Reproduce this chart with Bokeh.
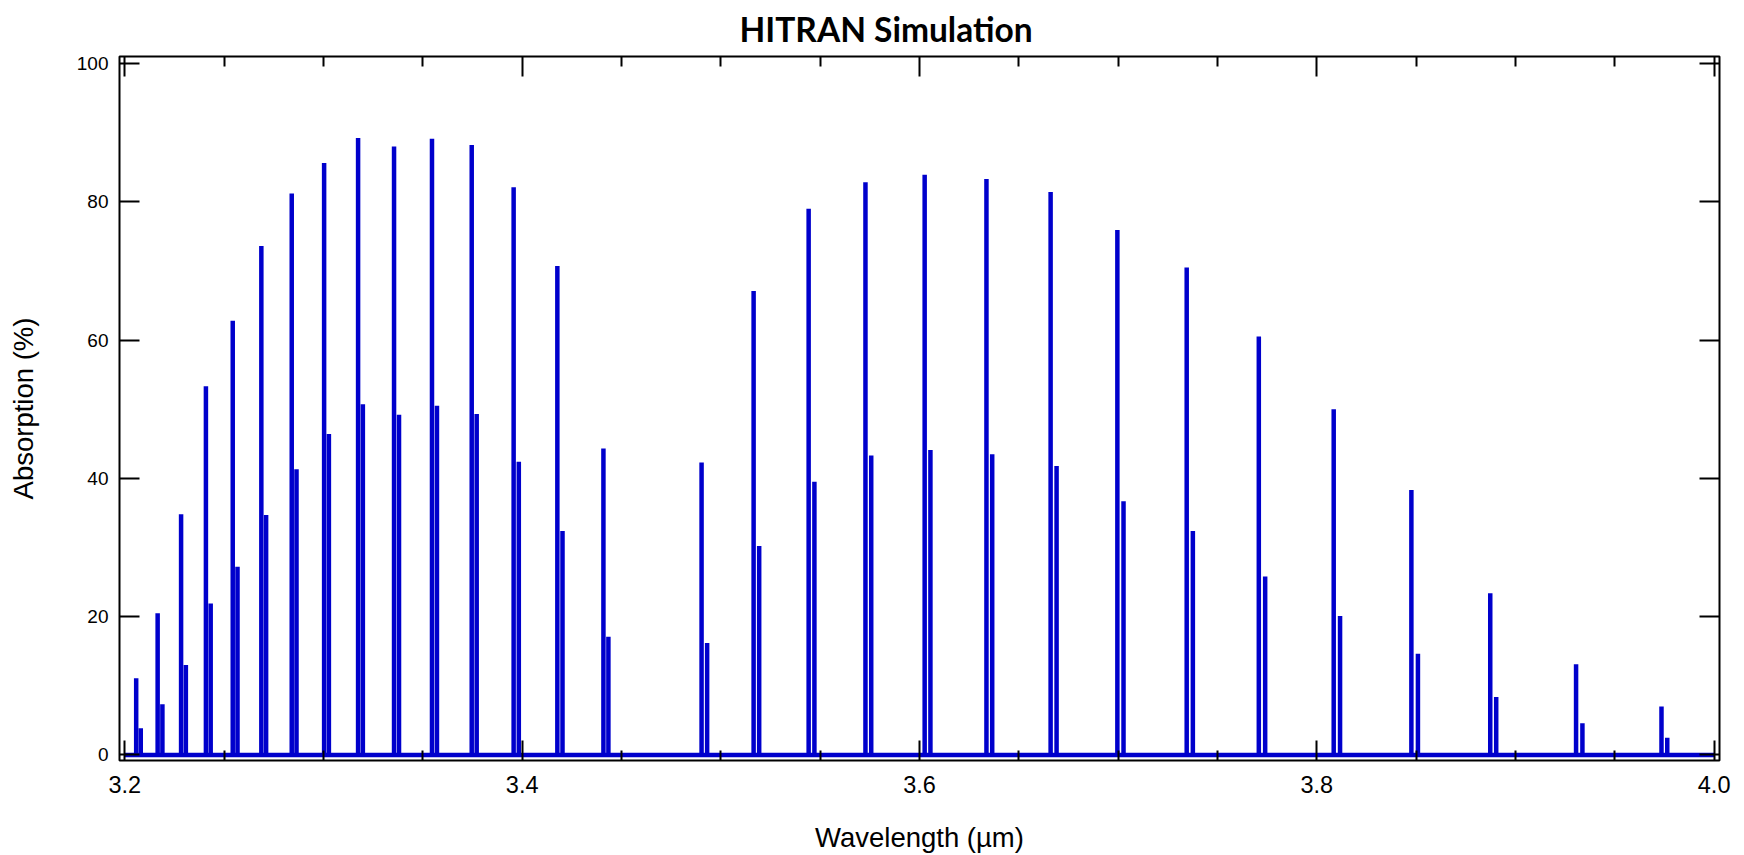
from bokeh.plotting import figure
from bokeh.models import (Range1d, LinearAxis, FixedTicker, PrintfTickFormatter,
                          CustomJSTickFormatter)
from bokeh.embed import file_html
from bokeh.resources import INLINE

# H35Cl lines (main peaks), wavelength in µm and absorption in %
main_wl = [3.2057, 3.2165, 3.2283, 3.2408, 3.2543, 3.2687, 3.2840, 3.3003,
           3.3174, 3.3355, 3.3546, 3.3746, 3.3957, 3.4177, 3.4409,
           3.4903, 3.5165, 3.5442, 3.5728, 3.6026, 3.6337, 3.6660, 3.6996,
           3.7345, 3.7708, 3.8085, 3.8476, 3.8873, 3.9305, 3.9735]
main_abs = [11.1, 20.5, 34.8, 53.3, 62.8, 73.6, 81.2, 85.6, 89.2, 88.0,
            89.1, 88.2, 82.1, 70.7, 44.3,
            42.3, 67.1, 79.0, 82.8, 83.9, 83.3, 81.4, 75.9, 70.5, 60.5,
            50.0, 38.3, 23.4, 13.1, 7.0]

# H37Cl lines (secondary peaks)
iso_wl = [3.2080, 3.2189, 3.2307, 3.2432, 3.2567, 3.2711, 3.2864, 3.3027,
          3.3198, 3.3380, 3.3571, 3.3771, 3.3983, 3.4203, 3.4434,
          3.4931, 3.5193, 3.5471, 3.5757, 3.6055, 3.6366, 3.6690, 3.7027,
          3.7376, 3.7740, 3.8117, 3.8509, 3.8903, 3.9337, 3.9764]
iso_abs = [3.85, 7.35, 13.0, 21.9, 27.2, 34.7, 41.3, 46.4, 50.7, 49.2,
           50.5, 49.3, 42.4, 32.4, 17.1,
           16.2, 30.2, 39.5, 43.3, 44.1, 43.5, 41.8, 36.7, 32.4, 25.8,
           20.1, 14.65, 8.4, 4.57, 2.5]

x_ticks = [3.2, 3.4, 3.6, 3.8, 4.0]
x_minor = [3.25, 3.3, 3.35, 3.45, 3.5, 3.55, 3.65, 3.7, 3.75, 3.85, 3.9, 3.95]
y_ticks = [0, 20, 40, 60, 80, 100]

BLUE = "#0000CC"
TICK_FONT = "Liberation Sans"

p = figure(width=1744, height=855, output_backend="svg", toolbar_location=None,
           x_range=Range1d(3.1973, 4.0027), y_range=Range1d(-0.8, 101.0),
           min_border_left=119, min_border_right=25,
           min_border_top=56, min_border_bottom=93)

p.grid.visible = False
p.background_fill_color = "white"
p.outline_line_color = "black"
p.outline_line_width = 2
p.outline_line_alpha = 1.0

# title
p.title.text = "HITRAN Simulation"
p.title.align = "left"
p.title.vertical_align = "top"
p.title.offset = 620
p.title.text_font = "Lato"
p.title.text_font_style = "bold"
p.title.text_font_size = "33.5px"
p.title.text_color = "black"
p.title.standoff = 12

# bottom axis
xa = p.xaxis[0]
xa.ticker = FixedTicker(ticks=x_ticks, minor_ticks=x_minor)
xa.formatter = PrintfTickFormatter(format="%.1f")
xa.axis_label = "Wavelength (µm)"
xa.axis_label_text_font = TICK_FONT
xa.axis_label_text_font_style = "normal"
xa.axis_label_text_font_size = "27.5px"
xa.axis_label_text_color = "black"
xa.axis_label_standoff = 26
xa.major_label_text_font = TICK_FONT
xa.major_label_text_font_size = "23.5px"
xa.major_label_text_color = "black"
xa.major_label_standoff = 15
xa.axis_line_color = None
xa.major_tick_in = 20
xa.major_tick_out = 0
xa.minor_tick_in = 10
xa.minor_tick_out = 0
xa.major_tick_line_color = "black"
xa.major_tick_line_width = 2
xa.minor_tick_line_color = "black"
xa.minor_tick_line_width = 2

# left axis
ya = p.yaxis[0]
ya.ticker = FixedTicker(ticks=y_ticks, minor_ticks=[])
ya.axis_label = "Absorption (%)"
ya.axis_label_text_font = TICK_FONT
ya.axis_label_text_font_style = "normal"
ya.axis_label_text_font_size = "27.5px"
ya.axis_label_text_color = "black"
ya.axis_label_standoff = 35
ya.major_label_text_font = TICK_FONT
ya.major_label_text_font_size = "19px"
ya.major_label_text_color = "black"
ya.major_label_standoff = 11
ya.axis_line_color = None
ya.major_tick_in = 20
ya.major_tick_out = 0
ya.minor_tick_line_color = None
ya.major_tick_line_color = "black"
ya.major_tick_line_width = 2

# mirrored axes (ticks only, no labels)
blank = CustomJSTickFormatter(code="return ''")
top = LinearAxis(ticker=FixedTicker(ticks=x_ticks, minor_ticks=x_minor),
                 formatter=blank, major_label_standoff=0,
                 major_label_text_font_size="1px",
                 axis_line_color=None, major_tick_in=20, major_tick_out=0,
                 minor_tick_in=10, minor_tick_out=0,
                 major_tick_line_width=2, minor_tick_line_width=2,
                 major_tick_line_color="black", minor_tick_line_color="black")
p.add_layout(top, "above")
right = LinearAxis(ticker=FixedTicker(ticks=y_ticks, minor_ticks=[]),
                   formatter=blank, major_label_standoff=0,
                   major_label_text_font_size="1px",
                   axis_line_color=None, major_tick_in=20, major_tick_out=0,
                   minor_tick_line_color=None,
                   major_tick_line_width=2, major_tick_line_color="black")
p.add_layout(right, "right")

# spectrum baseline over the simulated range
p.segment(x0=[x_ticks[0]], y0=[0], x1=[x_ticks[-1]], y1=[0],
          line_color=BLUE, line_width=4.5)
# isotopologue lines
p.segment(x0=iso_wl, y0=[0] * len(iso_wl), x1=iso_wl, y1=iso_abs,
          line_color=BLUE, line_width=4.5)
# main lines
p.segment(x0=main_wl, y0=[0] * len(main_wl), x1=main_wl, y1=main_abs,
          line_color=BLUE, line_width=4.5)

open("out.html", "w").write(file_html(p, INLINE))
